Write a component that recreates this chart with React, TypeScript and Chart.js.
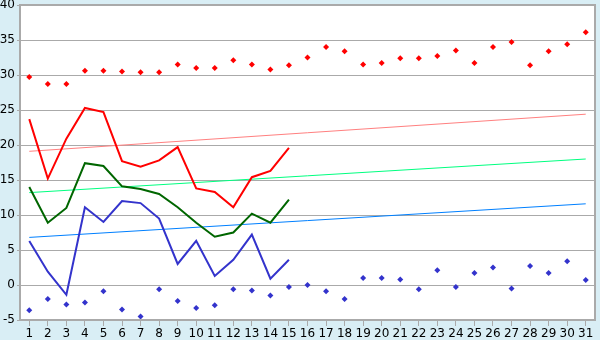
import { useEffect, useRef } from 'react';
import { Chart, registerables } from 'chart.js';

Chart.register(...registerables);

const days = ['1','2','3','4','5','6','7','8','9','10','11','12','13','14','15','16','17','18','19','20','21','22','23','24','25','26','27','28','29','30','31'];
const maxRecord = [29.7, 28.7, 28.7, 30.6, 30.6, 30.5, 30.4, 30.4, 31.5, 31.0, 31.0, 32.1, 31.5, 30.8, 31.4, 32.5, 34.0, 33.4, 31.5, 31.7, 32.4, 32.4, 32.7, 33.5, 31.7, 34.0, 34.7, 31.4, 33.4, 34.4, 36.1];
const minRecord = [-3.6, -2.0, -2.8, -2.5, -0.9, -3.5, -4.5, -0.6, -2.3, -3.3, -2.9, -0.6, -0.8, -1.5, -0.3, 0.0, -0.9, -2.0, 1.0, 1.0, 0.8, -0.6, 2.1, -0.3, 1.7, 2.5, -0.5, 2.7, 1.7, 3.4, 0.7];
const maxTemp = [23.7, 15.2, 20.9, 25.3, 24.7, 17.7, 16.9, 17.8, 19.7, 13.8, 13.3, 11.1, 15.4, 16.3, 19.6];
const meanTemp = [14.0, 8.9, 11.0, 17.4, 17.0, 14.1, 13.7, 13.0, 11.1, 8.9, 6.9, 7.5, 10.2, 8.9, 12.2];
const minTemp = [6.3, 1.9, -1.4, 11.1, 9.0, 12.0, 11.7, 9.5, 3.0, 6.3, 1.3, 3.6, 7.2, 0.9, 3.6];
const maxTrend = [19.1, 24.4];
const meanTrend = [13.2, 18.0];
const minTrend = [6.8, 11.6];

const FONT = { family: 'DejaVu Sans', size: 12 };

const bgPlugin = {
  id: 'bgPlugin',
  beforeDraw(chart: any) {
    const { ctx, chartArea: a, width, height } = chart;
    ctx.save();
    ctx.fillStyle = '#d9eef5';
    ctx.fillRect(0, 0, width, height);
    ctx.fillStyle = '#ffffff';
    ctx.fillRect(a.left, a.top, a.right - a.left, a.bottom - a.top);
    ctx.restore();
  },
  afterDraw(chart: any) {
    const { ctx, chartArea: a } = chart;
    ctx.save();
    ctx.strokeStyle = '#aaaaaa';
    ctx.lineWidth = 2;
    ctx.strokeRect(a.left, a.top, a.right - a.left, a.bottom - a.top);
    ctx.restore();
  },
};

const trend = (vals: number[]) => [
  { x: days[0], y: vals[0] },
  { x: days[days.length - 1], y: vals[1] },
];

export default function App() {
  const ref = useRef<HTMLCanvasElement>(null);
  useEffect(() => {
    document.body.style.margin = '0';
    const chart = new Chart(ref.current as HTMLCanvasElement, {
      type: 'line',
      data: {
        labels: days,
        datasets: [
          { data: maxTemp, borderColor: '#ff0000', borderWidth: 2, pointRadius: 0, tension: 0 },
          { data: meanTemp, borderColor: '#006600', borderWidth: 2, pointRadius: 0, tension: 0 },
          { data: minTemp, borderColor: '#3333cc', borderWidth: 2, pointRadius: 0, tension: 0 },
          { data: maxRecord, showLine: false, pointStyle: 'rectRot', pointRadius: 3, backgroundColor: '#ff0000', borderColor: '#ff0000', borderWidth: 0 },
          { data: minRecord, showLine: false, pointStyle: 'rectRot', pointRadius: 3, backgroundColor: '#3333cc', borderColor: '#3333cc', borderWidth: 0 },
          { data: trend(maxTrend) as any, borderColor: '#ff8080', borderWidth: 1, pointRadius: 0, tension: 0 },
          { data: trend(meanTrend) as any, borderColor: '#00ff80', borderWidth: 1, pointRadius: 0, tension: 0 },
          { data: trend(minTrend) as any, borderColor: '#0080ff', borderWidth: 1, pointRadius: 0, tension: 0 },
        ],
      },
      options: {
        animation: false,
        responsive: false,
        layout: { padding: { top: 5, right: 5, left: 0, bottom: 0 } },
        plugins: { legend: { display: false }, tooltip: { enabled: false } },
        scales: {
          x: {
            type: 'category',
            offset: true,
            grid: { offset: false, drawOnChartArea: false, drawTicks: true, tickLength: 6, color: '#aaaaaa' },
            border: { color: '#aaaaaa' },
            ticks: { font: FONT, color: '#000000', padding: 1, maxRotation: 0, autoSkip: false },
            afterFit(s: any) { s.height = 20; s.paddingLeft = 0; s.paddingRight = 0; },
          },
          y: {
            min: -5,
            max: 40,
            ticks: { stepSize: 5, font: FONT, color: '#000000', padding: 2 },
            grid: { color: '#aaaaaa', tickLength: 3 },
            border: { color: '#aaaaaa' },
            afterFit(s: any) { s.width = 20; s.paddingTop = 0; s.paddingBottom = 0; },
          },
        },
      },
      plugins: [bgPlugin],
    });
    return () => chart.destroy();
  }, []);
  return <canvas ref={ref} width={600} height={340} style={{ display: 'block' }} />;
}
